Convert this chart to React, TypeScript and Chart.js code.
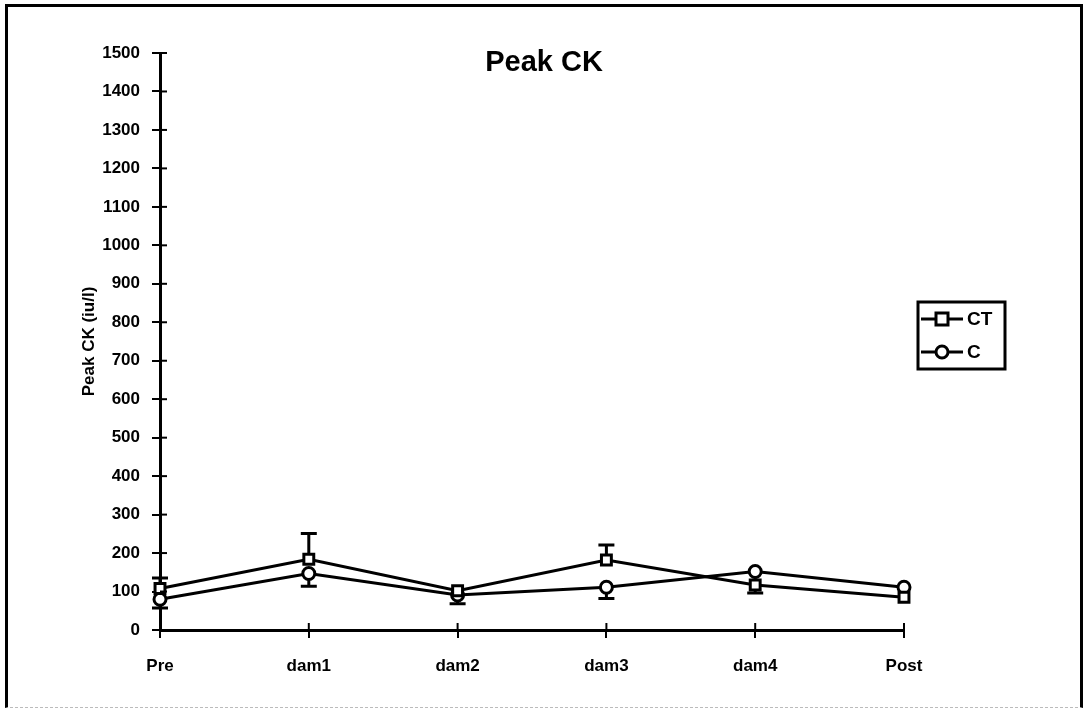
import React, { useEffect, useRef } from "react";
import { Chart, registerables } from "chart.js";

Chart.register(...registerables);

const categories = ["Pre", "dam1", "dam2", "dam3", "dam4", "Post"];
const ctValues = [108, 184, 102, 182, 117, 85];
const ctErrPlus = [27, 67, 0, 39, 0, 0];
const cValues = [80, 147, 91, 111, 152, 111];
const cErrMinus = [23, 33, 23, 29, 56, 0];
const yTickMin = 0;
const yTickMax = 1500;
const yTickStep = 100;
const chartTitle = "Peak CK";
const yAxisTitle = "Peak CK (iu/l)";
const seriesNames = ["CT", "C"];

const FONT = "'Liberation Sans', Arial, sans-serif";

const errorBarPlugin = {
  id: "errorBars",
  beforeDatasetsDraw(chart: any) {
    const ctx = chart.ctx;
    const x = chart.scales.x;
    const y = chart.scales.y;
    ctx.save();
    ctx.strokeStyle = "#000";
    ctx.lineWidth = 3;
    const draw = (vals: number[], errs: number[], dir: number) => {
      vals.forEach((v, i) => {
        const e = errs[i];
        if (!e) return;
        const px = x.getPixelForValue(i);
        const p0 = y.getPixelForValue(v);
        const p1 = y.getPixelForValue(v + dir * e);
        ctx.beginPath();
        ctx.moveTo(px, p0);
        ctx.lineTo(px, p1);
        ctx.moveTo(px - 8, p1);
        ctx.lineTo(px + 8, p1);
        ctx.stroke();
      });
    };
    draw(ctValues, ctErrPlus, 1);
    draw(cValues, cErrMinus, -1);
    ctx.restore();
  },
};

const decorPlugin = {
  id: "decor",
  afterDraw(chart: any) {
    const ctx = chart.ctx;
    const area = chart.chartArea;
    const x = chart.scales.x;
    const y = chart.scales.y;
    ctx.save();
    ctx.strokeStyle = "#000";
    ctx.lineWidth = 2;
    for (let v = yTickMin; v <= yTickMax; v += yTickStep) {
      const py = y.getPixelForValue(v);
      ctx.beginPath();
      ctx.moveTo(area.left, py);
      ctx.lineTo(area.left + 7, py);
      ctx.stroke();
    }
    categories.forEach((_, i) => {
      const px = x.getPixelForValue(i);
      ctx.beginPath();
      ctx.moveTo(px, area.bottom);
      ctx.lineTo(px, area.bottom - 7);
      ctx.stroke();
    });
    ctx.fillStyle = "#000";
    ctx.font = `bold 29px ${FONT}`;
    ctx.textAlign = "center";
    ctx.textBaseline = "middle";
    ctx.fillText(chartTitle, chart.width / 2, 63);
    const lx = area.right + 14;
    const ly = 302;
    const lw = 87;
    const lh = 67;
    ctx.lineWidth = 3;
    ctx.strokeRect(lx, ly, lw, lh);
    ctx.font = `bold 19px ${FONT}`;
    ctx.textAlign = "left";
    const rows = [ly + 17, ly + 50];
    rows.forEach((ry, i) => {
      ctx.lineWidth = 3;
      ctx.beginPath();
      ctx.moveTo(lx + 3, ry);
      ctx.lineTo(lx + 45, ry);
      ctx.stroke();
      ctx.fillStyle = "#fff";
      ctx.beginPath();
      if (i === 0) {
        ctx.rect(lx + 18, ry - 6, 12, 12);
      } else {
        ctx.arc(lx + 24, ry, 6, 0, Math.PI * 2);
      }
      ctx.fill();
      ctx.stroke();
      ctx.fillStyle = "#000";
      ctx.fillText(seriesNames[i], lx + 49, ry + 1);
    });
    ctx.restore();
  },
};

export default function App() {
  const ref = useRef<HTMLCanvasElement>(null);
  useEffect(() => {
    if (!ref.current) return;
    const chart = new Chart(ref.current, {
      type: "line",
      data: {
        labels: categories,
        datasets: [
          {
            label: seriesNames[0],
            data: ctValues,
            borderColor: "#000",
            borderWidth: 3,
            pointStyle: "rect",
            pointRadius: 7,
            pointBorderWidth: 3,
            pointBackgroundColor: "#fff",
            pointBorderColor: "#000",
            tension: 0,
          },
          {
            label: seriesNames[1],
            data: cValues,
            borderColor: "#000",
            borderWidth: 3,
            pointStyle: "circle",
            pointRadius: 6,
            pointBorderWidth: 3,
            pointBackgroundColor: "#fff",
            pointBorderColor: "#000",
            tension: 0,
          },
        ],
      },
      options: {
        animation: false,
        responsive: false,
        maintainAspectRatio: false,
        layout: { padding: { left: 0, right: 184, top: 53, bottom: 0 } },
        plugins: {
          legend: { display: false },
          title: { display: false },
          tooltip: { enabled: false },
        },
        scales: {
          x: {
            type: "category",
            offset: false,
            afterFit: (s: any) => {
              s.height = 81;
            },
            grid: {
              drawOnChartArea: false,
              drawTicks: true,
              tickLength: 8,
              color: "#000",
              lineWidth: 2,
            },
            border: { display: true, color: "#000", width: 3 },
            ticks: {
              color: "#000",
              padding: 18,
              maxRotation: 0,
              font: { family: FONT, size: 17, weight: "bold" },
            },
          },
          y: {
            min: yTickMin,
            max: yTickMax,
            afterFit: (s: any) => {
              s.width = 160;
            },
            grid: {
              drawOnChartArea: false,
              drawTicks: true,
              tickLength: 8,
              color: "#000",
              lineWidth: 2,
            },
            border: { display: true, color: "#000", width: 3 },
            ticks: {
              stepSize: yTickStep,
              color: "#000",
              padding: 12,
              callback: (v: any) => String(v),
              font: { family: FONT, size: 17, weight: "bold" },
            },
            title: {
              display: true,
              text: yAxisTitle,
              color: "#000",
              padding: { top: 79, bottom: 0 },
              font: { family: FONT, size: 17, weight: "bold" },
            },
          },
        },
      },
      plugins: [errorBarPlugin, decorPlugin],
    });
    return () => chart.destroy();
  }, []);

  return (
    <div
      style={{
        position: "fixed",
        left: 0,
        top: 0,
        width: 1088,
        height: 711,
        background: "#fff",
      }}
    >
      <canvas ref={ref} width={1088} height={711} style={{ position: "absolute", left: 0, top: 0 }} />
      <div
        style={{
          position: "absolute",
          left: 5,
          top: 4,
          width: 1072,
          height: 700,
          borderLeft: "3px solid #000",
          borderTop: "3px solid #000",
          borderRight: "3px solid #000",
          borderBottom: "1px dashed #bbb",
          pointerEvents: "none",
        }}
      />
    </div>
  );
}
